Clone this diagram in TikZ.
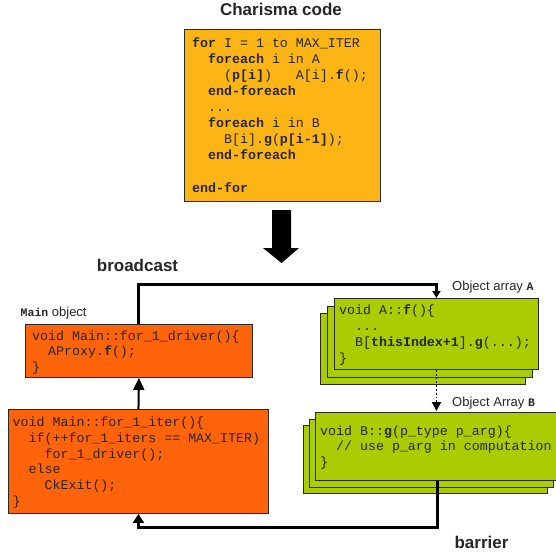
\documentclass[tikz,border=0pt]{standalone}
\usepackage{fontspec}
\setmainfont{Liberation Sans}
\setmonofont{Liberation Mono}
\usetikzlibrary{arrows.meta}
\definecolor{charisma}{RGB}{253,181,21}
\definecolor{mainor}{RGB}{255,100,10}
\definecolor{arrgreen}{RGB}{170,204,0}
\definecolor{edge}{RGB}{40,40,40}
\newcommand\tab{\hspace*{1.2em}}
\newcommand\tabb{\hspace*{2.4em}}
\newcommand\firstline{\rule{0pt}{12pt}}
\tikzset{
  box/.style={draw=edge, line width=0.9pt, inner sep=0pt, anchor=north west},
  code/.style={anchor=north west, inner sep=0pt, align=left, text=black!85},
  title/.style={font=\bfseries\fontsize{17}{20}\selectfont, anchor=base, inner sep=0pt, text=black!85},
  lbl/.style={font=\fontsize{13}{15}\selectfont, anchor=base west, inner sep=0pt, text=black!85},
  conn/.style={line width=3pt, -{Triangle[width=11pt,length=9pt]}},
  bconn/.style={line width=3pt, -{Triangle[width=8pt,length=7pt]}},
  upconn/.style={line width=2pt, -{Triangle[width=11pt,length=12pt]}},
  dotconn/.style={line width=1.8pt, dotted, -{Triangle[width=9pt,length=9pt]}, shorten >=1pt},
}
\begin{document}
\begin{tikzpicture}[x=1pt,y=-1pt]
\useasboundingbox (0,0) rectangle (556,554);
% Charisma code
\node[title] (ctitle) at (281,15) {Charisma code};
\node[box, fill=charisma, minimum width=196, minimum height=172] (charisma) at (184,29) {};
\node[code, font=\ttfamily\fontsize{13.3}{16.1}\selectfont] (ctext) at (192,35) {\firstline\textbf{for} I = 1 to MAX\_ITER\\
\tab\textbf{foreach} i in A\\
\tabb(\textbf{p[i]})\hspace*{1.8em}A[i].\textbf{f}();\\
\tab\textbf{end-foreach}\\
\tab...\\
\tab\textbf{foreach} i in B\\
\tabb B[i].\textbf{g}(\textbf{p[i-1]});\\
\tab\textbf{end-foreach}\\
\mbox{}\\
\textbf{end-for}};
% big arrow
\fill[black] (272,210) -- (291,210) -- (291,248) -- (299,248) -- (281.5,263) -- (263,248) -- (272,248) -- cycle;
% labels
\node[title] (broadcast) at (137.5,271) {broadcast};
\node[title] (barrier) at (481.5,548) {barrier};
\node[lbl] (mainlbl) at (20.5,316.5) {{\ttfamily\bfseries\fontsize{11.5}{13}\selectfont Main} object};
\node[lbl] (albl) at (452,290.5) {Object array {\ttfamily\bfseries\fontsize{11.5}{13}\selectfont A}};
\node[lbl] (blbl) at (452,406.5) {Object Array {\ttfamily\bfseries\fontsize{11.5}{13}\selectfont B}};
% Main boxes
\node[box, fill=mainor, minimum width=227, minimum height=53] (mainbox) at (25,324) {};
\node[code, font=\ttfamily\fontsize{13.3}{15.6}\selectfont] (maintext) at (32,328) {\firstline void Main::for\_1\_driver()\{\\
\tab AProxy.\textbf{f}();\\
\}};
\node[box, fill=mainor, minimum width=260, minimum height=104] (iter) at (8,409) {};
\node[code, font=\ttfamily\fontsize{13.3}{15.7}\selectfont] (itertext) at (12.5,414.5) {\firstline void Main::for\_1\_iter()\{\\
\tab if(++for\_1\_iters == MAX\_ITER)\\
\tabb for\_1\_driver();\\
\tab else\\
\tabb CkExit();\\
\}};
% Object array A
\node[box, fill=arrgreen, minimum width=205, minimum height=71] (aback) at (319.5,313) {};
\node[box, fill=arrgreen, minimum width=205, minimum height=71] (amid) at (327,305.5) {};
\node[box, fill=arrgreen, minimum width=204, minimum height=71] (afront) at (334,298) {};
\node[code, font=\ttfamily\fontsize{13.3}{16}\selectfont] (atext) at (339,302) {\firstline void A::\textbf{f}()\{\\
\tab ...\\
\tab B[\textbf{thisIndex+1}].\textbf{g}(...);\\
\}};
% Object array B
\node[box, fill=arrgreen, minimum width=244, minimum height=68] (bback) at (303,425) {};
\node[box, fill=arrgreen, minimum width=244, minimum height=68] (bmid) at (309,418.5) {};
\node[box, fill=arrgreen, minimum width=245, minimum height=68] (bfront) at (315,412) {};
\node[code, font=\ttfamily\fontsize{13.3}{15.5}\selectfont] (btext) at (320,423) {\firstline void B::\textbf{g}(p\_type p\_arg)\{\\
\tab // use p\_arg in computation\\
\}};
% connectors
\draw[bconn] (mainbox.north) -- ++(0,-40) -| (afront.north);
\draw[upconn] (iter.north) -- (mainbox.south);
\draw[dotconn] (afront.south) -- (afront.south |- bfront.north);
\draw[conn] (bfront.south) -- ++(0,47) -| (iter.south);
\end{tikzpicture}
\end{document}
